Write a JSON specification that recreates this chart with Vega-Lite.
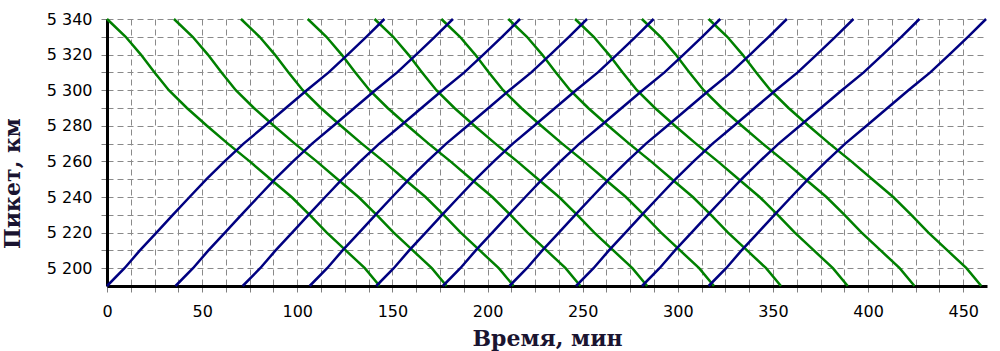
{
  "$schema": "https://vega.github.io/schema/vega-lite/v6.json",
  "width": 880,
  "height": 267,
  "autosize": {"type": "none"},
  "padding": {"left": 107, "top": 19, "right": 13, "bottom": 65},
  "background": "white",
  "config": {"view": {"stroke": null}},
  "datasets": {
    "green": [
      {"s":"g1","t":0,"p":5340},{"s":"g1","t":9.8,"p":5330},{"s":"g1","t":17.8,"p":5320},{"s":"g1","t":25,"p":5310},{"s":"g1","t":32.5,"p":5300},{"s":"g1","t":42,"p":5290},{"s":"g1","t":52.5,"p":5280},{"s":"g1","t":63.5,"p":5270},{"s":"g1","t":75,"p":5260},{"s":"g1","t":86,"p":5250},{"s":"g1","t":97,"p":5240},{"s":"g1","t":106.5,"p":5230},{"s":"g1","t":115.5,"p":5220},{"s":"g1","t":125.5,"p":5210},{"s":"g1","t":135.5,"p":5200},{"s":"g1","t":143.3,"p":5190},
      {"s":"g2","t":35.2,"p":5340},{"s":"g2","t":45,"p":5330},{"s":"g2","t":53,"p":5320},{"s":"g2","t":60.2,"p":5310},{"s":"g2","t":67.7,"p":5300},{"s":"g2","t":77.2,"p":5290},{"s":"g2","t":87.7,"p":5280},{"s":"g2","t":98.7,"p":5270},{"s":"g2","t":110.2,"p":5260},{"s":"g2","t":121.2,"p":5250},{"s":"g2","t":132.2,"p":5240},{"s":"g2","t":141.7,"p":5230},{"s":"g2","t":150.7,"p":5220},{"s":"g2","t":160.7,"p":5210},{"s":"g2","t":170.7,"p":5200},{"s":"g2","t":178.5,"p":5190},
      {"s":"g3","t":70.4,"p":5340},{"s":"g3","t":80.2,"p":5330},{"s":"g3","t":88.2,"p":5320},{"s":"g3","t":95.4,"p":5310},{"s":"g3","t":102.9,"p":5300},{"s":"g3","t":112.4,"p":5290},{"s":"g3","t":122.9,"p":5280},{"s":"g3","t":133.9,"p":5270},{"s":"g3","t":145.4,"p":5260},{"s":"g3","t":156.4,"p":5250},{"s":"g3","t":167.4,"p":5240},{"s":"g3","t":176.9,"p":5230},{"s":"g3","t":185.9,"p":5220},{"s":"g3","t":195.9,"p":5210},{"s":"g3","t":205.9,"p":5200},{"s":"g3","t":213.7,"p":5190},
      {"s":"g4","t":105.5,"p":5340},{"s":"g4","t":115.3,"p":5330},{"s":"g4","t":123.3,"p":5320},{"s":"g4","t":130.5,"p":5310},{"s":"g4","t":138,"p":5300},{"s":"g4","t":147.5,"p":5290},{"s":"g4","t":158,"p":5280},{"s":"g4","t":169,"p":5270},{"s":"g4","t":180.5,"p":5260},{"s":"g4","t":191.5,"p":5250},{"s":"g4","t":202.5,"p":5240},{"s":"g4","t":212,"p":5230},{"s":"g4","t":221,"p":5220},{"s":"g4","t":231,"p":5210},{"s":"g4","t":241,"p":5200},{"s":"g4","t":248.8,"p":5190},
      {"s":"g5","t":140.6,"p":5340},{"s":"g5","t":150.4,"p":5330},{"s":"g5","t":158.4,"p":5320},{"s":"g5","t":165.6,"p":5310},{"s":"g5","t":173.1,"p":5300},{"s":"g5","t":182.6,"p":5290},{"s":"g5","t":193.1,"p":5280},{"s":"g5","t":204.1,"p":5270},{"s":"g5","t":215.6,"p":5260},{"s":"g5","t":226.6,"p":5250},{"s":"g5","t":237.6,"p":5240},{"s":"g5","t":247.1,"p":5230},{"s":"g5","t":256.1,"p":5220},{"s":"g5","t":266.1,"p":5210},{"s":"g5","t":276.1,"p":5200},{"s":"g5","t":283.9,"p":5190},
      {"s":"g6","t":175.7,"p":5340},{"s":"g6","t":185.5,"p":5330},{"s":"g6","t":193.5,"p":5320},{"s":"g6","t":200.7,"p":5310},{"s":"g6","t":208.2,"p":5300},{"s":"g6","t":217.7,"p":5290},{"s":"g6","t":228.2,"p":5280},{"s":"g6","t":239.2,"p":5270},{"s":"g6","t":250.7,"p":5260},{"s":"g6","t":261.7,"p":5250},{"s":"g6","t":272.7,"p":5240},{"s":"g6","t":282.2,"p":5230},{"s":"g6","t":291.2,"p":5220},{"s":"g6","t":301.2,"p":5210},{"s":"g6","t":311.2,"p":5200},{"s":"g6","t":319,"p":5190},
      {"s":"g7","t":210.9,"p":5340},{"s":"g7","t":220.7,"p":5330},{"s":"g7","t":228.7,"p":5320},{"s":"g7","t":235.9,"p":5310},{"s":"g7","t":243.4,"p":5300},{"s":"g7","t":252.9,"p":5290},{"s":"g7","t":263.4,"p":5280},{"s":"g7","t":274.4,"p":5270},{"s":"g7","t":285.9,"p":5260},{"s":"g7","t":296.9,"p":5250},{"s":"g7","t":307.9,"p":5240},{"s":"g7","t":317.4,"p":5230},{"s":"g7","t":326.4,"p":5220},{"s":"g7","t":336.4,"p":5210},{"s":"g7","t":346.4,"p":5200},{"s":"g7","t":354.2,"p":5190},
      {"s":"g8","t":246,"p":5340},{"s":"g8","t":255.8,"p":5330},{"s":"g8","t":263.8,"p":5320},{"s":"g8","t":271,"p":5310},{"s":"g8","t":278.5,"p":5300},{"s":"g8","t":288,"p":5290},{"s":"g8","t":298.5,"p":5280},{"s":"g8","t":309.5,"p":5270},{"s":"g8","t":321,"p":5260},{"s":"g8","t":332,"p":5250},{"s":"g8","t":343,"p":5240},{"s":"g8","t":352.5,"p":5230},{"s":"g8","t":361.5,"p":5220},{"s":"g8","t":371.5,"p":5210},{"s":"g8","t":381.5,"p":5200},{"s":"g8","t":389.3,"p":5190},
      {"s":"g9","t":281.1,"p":5340},{"s":"g9","t":290.9,"p":5330},{"s":"g9","t":298.9,"p":5320},{"s":"g9","t":306.1,"p":5310},{"s":"g9","t":313.6,"p":5300},{"s":"g9","t":323.1,"p":5290},{"s":"g9","t":333.6,"p":5280},{"s":"g9","t":344.6,"p":5270},{"s":"g9","t":356.1,"p":5260},{"s":"g9","t":367.1,"p":5250},{"s":"g9","t":378.1,"p":5240},{"s":"g9","t":387.6,"p":5230},{"s":"g9","t":396.6,"p":5220},{"s":"g9","t":406.6,"p":5210},{"s":"g9","t":416.6,"p":5200},{"s":"g9","t":424.4,"p":5190},
      {"s":"g10","t":316.2,"p":5340},{"s":"g10","t":326,"p":5330},{"s":"g10","t":334,"p":5320},{"s":"g10","t":341.2,"p":5310},{"s":"g10","t":348.7,"p":5300},{"s":"g10","t":358.2,"p":5290},{"s":"g10","t":368.7,"p":5280},{"s":"g10","t":379.7,"p":5270},{"s":"g10","t":391.2,"p":5260},{"s":"g10","t":402.2,"p":5250},{"s":"g10","t":413.2,"p":5240},{"s":"g10","t":422.7,"p":5230},{"s":"g10","t":431.7,"p":5220},{"s":"g10","t":441.7,"p":5210},{"s":"g10","t":451.7,"p":5200},{"s":"g10","t":459.5,"p":5190}
    ],
    "blue": [
      {"s":"b1","t":0,"p":5190},{"s":"b1","t":9.2,"p":5200},{"s":"b1","t":17.3,"p":5210},{"s":"b1","t":26,"p":5220},{"s":"b1","t":34.6,"p":5230},{"s":"b1","t":43.4,"p":5240},{"s":"b1","t":52.3,"p":5250},{"s":"b1","t":61.8,"p":5260},{"s":"b1","t":71.8,"p":5270},{"s":"b1","t":83,"p":5280},{"s":"b1","t":94,"p":5290},{"s":"b1","t":105,"p":5300},{"s":"b1","t":116.5,"p":5310},{"s":"b1","t":126.5,"p":5320},{"s":"b1","t":136.3,"p":5330},{"s":"b1","t":145.8,"p":5340},
      {"s":"b2","t":36,"p":5190},{"s":"b2","t":45.2,"p":5200},{"s":"b2","t":53.3,"p":5210},{"s":"b2","t":62,"p":5220},{"s":"b2","t":70.6,"p":5230},{"s":"b2","t":79.4,"p":5240},{"s":"b2","t":88.3,"p":5250},{"s":"b2","t":97.8,"p":5260},{"s":"b2","t":107.8,"p":5270},{"s":"b2","t":119,"p":5280},{"s":"b2","t":130,"p":5290},{"s":"b2","t":141,"p":5300},{"s":"b2","t":152.5,"p":5310},{"s":"b2","t":162.5,"p":5320},{"s":"b2","t":172.3,"p":5330},{"s":"b2","t":181.8,"p":5340},
      {"s":"b3","t":71.3,"p":5190},{"s":"b3","t":80.5,"p":5200},{"s":"b3","t":88.6,"p":5210},{"s":"b3","t":97.3,"p":5220},{"s":"b3","t":105.9,"p":5230},{"s":"b3","t":114.7,"p":5240},{"s":"b3","t":123.6,"p":5250},{"s":"b3","t":133.1,"p":5260},{"s":"b3","t":143.1,"p":5270},{"s":"b3","t":154.3,"p":5280},{"s":"b3","t":165.3,"p":5290},{"s":"b3","t":176.3,"p":5300},{"s":"b3","t":187.8,"p":5310},{"s":"b3","t":197.8,"p":5320},{"s":"b3","t":207.6,"p":5330},{"s":"b3","t":217.1,"p":5340},
      {"s":"b4","t":106.5,"p":5190},{"s":"b4","t":115.7,"p":5200},{"s":"b4","t":123.8,"p":5210},{"s":"b4","t":132.5,"p":5220},{"s":"b4","t":141.1,"p":5230},{"s":"b4","t":149.9,"p":5240},{"s":"b4","t":158.8,"p":5250},{"s":"b4","t":168.3,"p":5260},{"s":"b4","t":178.3,"p":5270},{"s":"b4","t":189.5,"p":5280},{"s":"b4","t":200.5,"p":5290},{"s":"b4","t":211.5,"p":5300},{"s":"b4","t":223,"p":5310},{"s":"b4","t":233,"p":5320},{"s":"b4","t":242.8,"p":5330},{"s":"b4","t":252.3,"p":5340},
      {"s":"b5","t":141.5,"p":5190},{"s":"b5","t":150.7,"p":5200},{"s":"b5","t":158.8,"p":5210},{"s":"b5","t":167.5,"p":5220},{"s":"b5","t":176.1,"p":5230},{"s":"b5","t":184.9,"p":5240},{"s":"b5","t":193.8,"p":5250},{"s":"b5","t":203.3,"p":5260},{"s":"b5","t":213.3,"p":5270},{"s":"b5","t":224.5,"p":5280},{"s":"b5","t":235.5,"p":5290},{"s":"b5","t":246.5,"p":5300},{"s":"b5","t":258,"p":5310},{"s":"b5","t":268,"p":5320},{"s":"b5","t":277.8,"p":5330},{"s":"b5","t":287.3,"p":5340},
      {"s":"b6","t":176.5,"p":5190},{"s":"b6","t":185.7,"p":5200},{"s":"b6","t":193.8,"p":5210},{"s":"b6","t":202.5,"p":5220},{"s":"b6","t":211.1,"p":5230},{"s":"b6","t":219.9,"p":5240},{"s":"b6","t":228.8,"p":5250},{"s":"b6","t":238.3,"p":5260},{"s":"b6","t":248.3,"p":5270},{"s":"b6","t":259.5,"p":5280},{"s":"b6","t":270.5,"p":5290},{"s":"b6","t":281.5,"p":5300},{"s":"b6","t":293,"p":5310},{"s":"b6","t":303,"p":5320},{"s":"b6","t":312.8,"p":5330},{"s":"b6","t":322.3,"p":5340},
      {"s":"b7","t":211.5,"p":5190},{"s":"b7","t":220.7,"p":5200},{"s":"b7","t":228.8,"p":5210},{"s":"b7","t":237.5,"p":5220},{"s":"b7","t":246.1,"p":5230},{"s":"b7","t":254.9,"p":5240},{"s":"b7","t":263.8,"p":5250},{"s":"b7","t":273.3,"p":5260},{"s":"b7","t":283.3,"p":5270},{"s":"b7","t":294.5,"p":5280},{"s":"b7","t":305.5,"p":5290},{"s":"b7","t":316.5,"p":5300},{"s":"b7","t":328,"p":5310},{"s":"b7","t":338,"p":5320},{"s":"b7","t":347.8,"p":5330},{"s":"b7","t":357.3,"p":5340},
      {"s":"b8","t":246.5,"p":5190},{"s":"b8","t":255.7,"p":5200},{"s":"b8","t":263.8,"p":5210},{"s":"b8","t":272.5,"p":5220},{"s":"b8","t":281.1,"p":5230},{"s":"b8","t":289.9,"p":5240},{"s":"b8","t":298.8,"p":5250},{"s":"b8","t":308.3,"p":5260},{"s":"b8","t":318.3,"p":5270},{"s":"b8","t":329.5,"p":5280},{"s":"b8","t":340.5,"p":5290},{"s":"b8","t":351.5,"p":5300},{"s":"b8","t":363,"p":5310},{"s":"b8","t":373,"p":5320},{"s":"b8","t":382.8,"p":5330},{"s":"b8","t":392.3,"p":5340},
      {"s":"b9","t":281.2,"p":5190},{"s":"b9","t":290.4,"p":5200},{"s":"b9","t":298.5,"p":5210},{"s":"b9","t":307.2,"p":5220},{"s":"b9","t":315.8,"p":5230},{"s":"b9","t":324.6,"p":5240},{"s":"b9","t":333.5,"p":5250},{"s":"b9","t":343,"p":5260},{"s":"b9","t":353,"p":5270},{"s":"b9","t":364.2,"p":5280},{"s":"b9","t":375.2,"p":5290},{"s":"b9","t":386.2,"p":5300},{"s":"b9","t":397.7,"p":5310},{"s":"b9","t":407.7,"p":5320},{"s":"b9","t":417.5,"p":5330},{"s":"b9","t":427,"p":5340},
      {"s":"b10","t":316.2,"p":5190},{"s":"b10","t":325.4,"p":5200},{"s":"b10","t":333.5,"p":5210},{"s":"b10","t":342.2,"p":5220},{"s":"b10","t":350.8,"p":5230},{"s":"b10","t":359.6,"p":5240},{"s":"b10","t":368.5,"p":5250},{"s":"b10","t":378,"p":5260},{"s":"b10","t":388,"p":5270},{"s":"b10","t":399.2,"p":5280},{"s":"b10","t":410.2,"p":5290},{"s":"b10","t":421.2,"p":5300},{"s":"b10","t":432.7,"p":5310},{"s":"b10","t":442.7,"p":5320},{"s":"b10","t":452.5,"p":5330},{"s":"b10","t":462,"p":5340}
    ]
  },
  "encoding": {
    "x": {
      "field": "t", "type": "quantitative",
      "scale": {"domain": [0, 462.5], "nice": false, "zero": false},
      "axis": {
        "title": "Время, мин",
        "values": [0,12.5,25,37.5,50,62.5,75,87.5,100,112.5,125,137.5,150,162.5,175,187.5,200,212.5,225,237.5,250,262.5,275,287.5,300,312.5,325,337.5,350,362.5,375,387.5,400,412.5,425,437.5,450],
        "labelExpr": "datum.value % 50 == 0 ? format(datum.value, 'd') : ''",
        "labelOverlap": false, "labelFlush": false, "labelBound": false,
        "labelFont": "DejaVu Sans", "labelFontSize": 16, "labelColor": "#000000", "labelPadding": 11,
        "tickColor": "#808080", "tickSize": 6, "tickWidth": 1,
        "domainColor": "#000000", "domainWidth": 3,
        "grid": true, "gridColor": "#8a8a8a", "gridDash": [6, 4], "gridWidth": 1,
        "titleFont": "DejaVu Serif", "titleFontWeight": "bold", "titleFontSize": 22, "titleColor": "#1a1430",
        "titleBaseline": "middle", "titleY": 52
      }
    },
    "y": {
      "field": "p", "type": "quantitative",
      "scale": {"domain": [5190, 5340], "nice": false, "zero": false},
      "axis": {
        "title": "Пикет, км",
        "values": [5200,5210,5220,5230,5240,5250,5260,5270,5280,5290,5300,5310,5320,5330,5340],
        "labelExpr": "datum.value % 20 == 0 ? floor(datum.value / 1000) + ' ' + format(datum.value % 1000, '03d') : ''",
        "labelOverlap": false, "labelFlush": false, "labelBound": false,
        "labelFont": "DejaVu Sans", "labelFontSize": 16, "labelColor": "#000000", "labelPadding": 9,
        "tickColor": "#808080", "tickSize": 6, "tickWidth": 1,
        "domainColor": "#000000", "domainWidth": 3,
        "grid": true, "gridColor": "#8a8a8a", "gridDash": [6, 4], "gridWidth": 1,
        "titleFont": "DejaVu Serif", "titleFontWeight": "bold", "titleFontSize": 22, "titleColor": "#1a1430",
        "titleBaseline": "middle", "titleAngle": 270, "titleX": -95, "titleY": 164
      }
    }
  },
  "layer": [
    {
      "data": {"name": "green"},
      "mark": {"type": "line", "color": "#008000", "strokeWidth": 2.5},
      "encoding": {"detail": {"field": "s", "type": "nominal"}}
    },
    {
      "data": {"name": "blue"},
      "mark": {"type": "line", "color": "#000080", "strokeWidth": 2.5},
      "encoding": {"detail": {"field": "s", "type": "nominal"}}
    }
  ]
}
